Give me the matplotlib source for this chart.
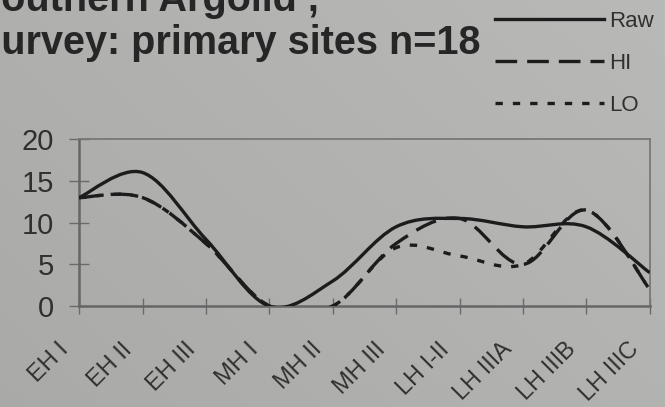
#!/usr/bin/env python3
"""Primary sites per period, smoothed line chart (Raw / HI / LO)."""
import numpy as np
import matplotlib
matplotlib.use('Agg')
import matplotlib.pyplot as plt
from matplotlib.path import Path
from matplotlib.patches import PathPatch
from matplotlib.lines import Line2D
import matplotlib.transforms as mtransforms

plt.rcParams.update({
    'font.family': ['Liberation Sans', 'DejaVu Sans'],
    'text.color': '#2a2a2a',
    'xtick.color': '#6a6a6a',
    'ytick.color': '#6a6a6a',
    'xtick.labelcolor': '#303030',
    'ytick.labelcolor': '#303030',
})

# --- data ---
periods = ['EH I', 'EH II', 'EH III', 'MH I', 'MH II', 'MH III',
           'LH I-II', 'LH IIIA', 'LH IIIB', 'LH IIIC']
raw = [13, 16, 8, 0, 3, 9.5, 10.5, 9.5, 9.5, 4]
hi = [13, 13, 7.5, 0, 0, 7.5, 10.5, 5, 11.5, 2]
lo = [13, 13, 7.5, 0, 0, 7, 6, 5, 11.5, 2]

BG = '#b8b9b7'
INK = '#1c1c1c'


def smooth_path(y):
    """Bezier path through the points, Excel-style smoothing."""
    pts = np.column_stack([np.arange(len(y)), np.asarray(y, float)])
    n = len(pts)
    verts = [pts[0]]
    codes = [Path.MOVETO]
    for i in range(n - 1):
        p0 = pts[max(i - 1, 0)]
        p1 = pts[i]
        p2 = pts[i + 1]
        p3 = pts[min(i + 2, n - 1)]
        verts += [p1 + (p2 - p0) / 6, p2 - (p3 - p1) / 6, p2]
        codes += [Path.CURVE4] * 3
    return Path(verts, codes)


fig = plt.figure(figsize=(6.65, 4.07), dpi=100, facecolor=BG)

# soft lighting across the slide: darker toward the lower left
bg_ax = fig.add_axes([0, 0, 1, 1], zorder=-10)
gx, gy = np.meshgrid(np.linspace(0, 1, 200), np.linspace(0, 1, 120))
shade = 0.665 + 0.06 * (0.6 * gx + 0.4 * gy)
bg_ax.imshow(np.dstack([shade, shade + 0.004, shade - 0.004]).clip(0, 1),
             origin='lower', aspect='auto', extent=[0, 1, 0, 1],
             interpolation='bilinear')
bg_ax.set_axis_off()

ax = fig.add_axes([0.119, 0.248, 0.858, 0.410])
ax.patch.set_alpha(0)

styles = [
    ('Raw', raw, '-'),
    ('HI', hi, (0, (6.5, 3.0))),
    ('LO', lo, (0, (2.2, 3.0))),
]
handles = []
for name, vals, ls in styles:
    ax.add_patch(PathPatch(smooth_path(vals), fill=False, edgecolor=INK,
                           lw=2.4, linestyle=ls, capstyle='butt', zorder=3))
    handles.append(Line2D([], [], color=INK, lw=2.4, linestyle=ls, label=name))

ax.set_xlim(0, len(periods) - 1)
ax.set_ylim(0, 20)
ax.set_yticks([0, 5, 10, 15, 20])
ax.set_xticks(np.arange(len(periods)))
ax.set_xticklabels(periods)

for side in ['left', 'bottom']:
    ax.spines[side].set_color('#666666')
    ax.spines[side].set_linewidth(1.8)
for side in ['top', 'right']:
    ax.spines[side].set_color('#787878')
    ax.spines[side].set_linewidth(1.3)

ax.tick_params(axis='y', direction='inout', length=14, width=1.0,
               labelsize=21, pad=11)
ax.tick_params(axis='x', direction='inout', length=12, width=1.0,
               labelsize=17, pad=23)

shift = mtransforms.ScaledTranslation(-14 / 100, 0, fig.dpi_scale_trans)
for lab in ax.get_xticklabels():
    lab.set_rotation(45)
    lab.set_ha('right')
    lab.set_va('center')
    lab.set_rotation_mode('anchor')
    lab.set_transform(lab.get_transform() + shift)

# slide heading, partly outside the frame
fig.text(-0.038, 1 - 11 / 407, 'Southern Argolid ,', fontsize=28.5,
         fontweight='bold', color='#262626', ha='left', va='baseline')
fig.text(-0.038, 1 - 54 / 407, 'Survey: primary sites n=18', fontsize=28.5,
         fontweight='bold', color='#262626', ha='left', va='baseline')

fig.legend(handles=handles, loc='upper left',
           bbox_to_anchor=(495 / 665, 1 - 11 / 407), frameon=False,
           fontsize=16, handlelength=4.9, handletextpad=0.25,
           labelspacing=0.95, borderpad=0, borderaxespad=0,
           labelcolor='#303030')

fig.savefig('out.png', dpi=100)
plt.close(fig)
